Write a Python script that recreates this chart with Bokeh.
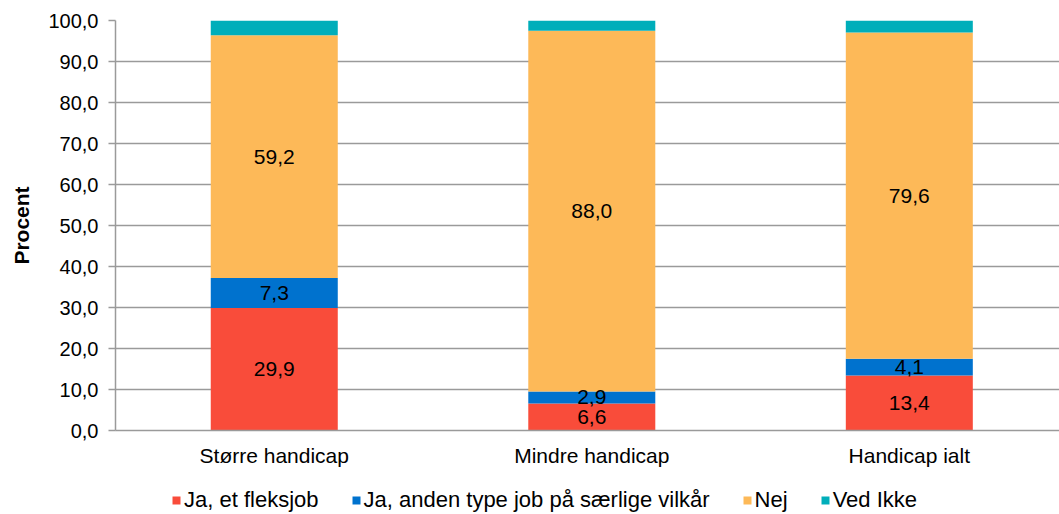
from bokeh.plotting import figure
from bokeh.layouts import column
from bokeh.models import (ColumnDataSource, Range1d, FixedTicker, Legend, LegendItem, LabelSet)
from bokeh.core.properties import value
from bokeh.embed import file_html
from bokeh.resources import INLINE

categories = ["Større handicap", "Mindre handicap", "Handicap ialt"]
series_names = ["Ja, et fleksjob", "Ja, anden type job på særlige vilkår", "Nej", "Ved Ikke"]
fleksjob = [29.9, 6.6, 13.4]
anden_job = [7.3, 2.9, 4.1]
nej = [59.2, 88.0, 79.6]
ved_ikke = [3.6, 2.5, 2.9]
y_ticks = [0, 10, 20, 30, 40, 50, 60, 70, 80, 90, 100]

colors = ["#F94C3A", "#0072CE", "#FDB958", "#00AEBA"]
FONT = "Liberation Sans"

xs = [i + 0.5 for i in range(len(categories))]
src = ColumnDataSource(dict(x=xs, s0=fleksjob, s1=anden_job, s2=nej, s3=ved_ikke))

p = figure(width=1059, height=484, output_backend="svg", toolbar_location=None,
           x_range=Range1d(0, 2.973), y_range=Range1d(0, 100),
           min_border_left=115, min_border_right=0, min_border_top=20, min_border_bottom=54)
p.outline_line_color = None
p.background_fill_color = "white"

rs = p.vbar_stack(["s0", "s1", "s2", "s3"], x="x", width=0.4, source=src,
                  fill_color=colors, line_color=None)

# data labels
lab_x, lab_y, lab_t = [], [], []
for i, x in enumerate(xs):
    base = 0.0
    for vals in (fleksjob, anden_job, nej):
        v = vals[i]
        lab_x.append(x)
        lab_y.append(base + v / 2)
        lab_t.append(f"{v:.1f}".replace(".", ","))
        base += v
lsrc = ColumnDataSource(dict(x=lab_x, y=lab_y, t=lab_t))
p.add_layout(LabelSet(x="x", y="y", text="t", source=lsrc, text_align="center",
                      text_baseline="middle", text_font=value(FONT), text_font_size="21px",
                      text_color="black"))

# axes
p.xgrid.visible = False
p.ygrid.grid_line_color = "#9A9A9A"
p.ygrid.grid_line_width = 1.5
p.yaxis.ticker = FixedTicker(ticks=y_ticks)
p.yaxis.major_label_overrides = {t: f"{t:.1f}".replace(".", ",") for t in y_ticks}
p.yaxis.axis_line_color = "#9A9A9A"
p.yaxis.axis_line_width = 1.5
p.yaxis.major_tick_line_color = "#9A9A9A"
p.yaxis.major_tick_line_width = 1.5
p.yaxis.major_tick_out = 7
p.yaxis.major_tick_in = 0
p.yaxis.minor_tick_line_color = None
p.yaxis.major_label_standoff = 10
p.yaxis.major_label_text_font = FONT
p.yaxis.major_label_text_font_size = "20px"
p.yaxis.major_label_text_color = "black"
p.yaxis.axis_label = "Procent"
p.yaxis.axis_label_text_font = FONT
p.yaxis.axis_label_text_font_size = "21px"
p.yaxis.axis_label_text_font_style = "bold"
p.yaxis.axis_label_text_color = "black"
p.yaxis.axis_label_standoff = 12

p.xaxis.ticker = FixedTicker(ticks=xs)
p.xaxis.major_label_overrides = {x: c for x, c in zip(xs, categories)}
p.xaxis.axis_line_color = "#9A9A9A"
p.xaxis.axis_line_width = 1.5
p.xaxis.major_tick_line_color = None
p.xaxis.minor_tick_line_color = None
p.xaxis.major_label_standoff = 7
p.xaxis.major_label_text_font = FONT
p.xaxis.major_label_text_font_size = "21px"
p.xaxis.major_label_text_color = "black"

# legend strip below the chart
lg = figure(width=1059, height=30, output_backend="svg", toolbar_location=None,
            x_range=Range1d(0, 1), y_range=Range1d(0, 1),
            x_axis_location=None, y_axis_location=None,
            min_border_left=0, min_border_right=0, min_border_top=0, min_border_bottom=0)
lg.outline_line_color = None
lg.grid.visible = False
dummy = ColumnDataSource(dict(x=[5.0], top=[1.0]))
lrs = [lg.vbar(x="x", top="top", width=0.1, source=dummy, fill_color=c, line_color=None)
       for c in colors]
legend = Legend(items=[LegendItem(label=n, renderers=[r]) for n, r in zip(series_names, lrs)],
                orientation="horizontal", location=(56, 1),
                glyph_width=10, glyph_height=10, label_standoff=3, spacing=32,
                label_text_font=FONT, label_text_font_size="22px", label_text_color="black",
                border_line_color=None, background_fill_alpha=0, padding=0, margin=0)
lg.add_layout(legend, "center")

open("out.html", "w").write(file_html(column(p, lg, spacing=0), INLINE))
